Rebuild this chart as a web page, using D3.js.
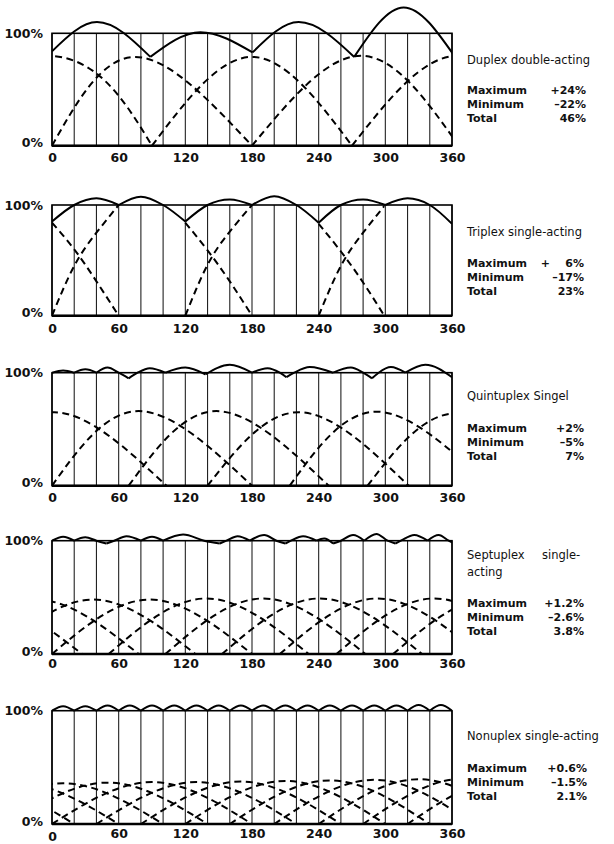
<!DOCTYPE html>
<html><head><meta charset="utf-8">
<script src="https://cdn.jsdelivr.net/npm/d3@7"></script>
<style>html,body{margin:0;padding:0;background:#fff}</style>
</head><body><svg id="c" width="614" height="844"></svg>
<script>
// ---------- shared data ----------
const xTicks = [0, 60, 120, 180, 240, 300, 360];
const gridDeg = [0,20,40,60,80,100,120,140,160,180,200,220,240,260,280,300,320,340,360];
const yTickVals = [0, 1];
const yTickLabels = ["0%", "100%"];

// ---------- Panel 1: Duplex double-acting ----------
const p1Title = ["Duplex double-acting"];
const p1StatNames = ["Maximum", "Minimum", "Total"];
const p1StatVals = ["+24%", "\u201322%", "46%"];
// cylinder curves: [start deg, peak deg, peak value, end deg]
const p1Cyl = [[-185,-5,0.80,90],[0,75,0.79,180],[90,180,0.79,270],[180,278,0.80,366],[270,365,0.80,460]];
// total flow arcs (between cusps): [deg, value]
const p1Total = [
  [[0,0.84],[40.5,1.10],[88.5,0.79]],
  [[88.5,0.79],[133.5,1.01],[180.5,0.83]],
  [[180.5,0.83],[222,1.10],[272,0.79]],
  [[272,0.79],[316.5,1.23],[362,0.80]]
];

// ---------- Panel 2: Triplex single-acting ----------
const p2Title = ["Triplex single-acting"];
const p2StatNames = ["Maximum", "Minimum", "Total"];
const p2StatVals = ["+\u2007\u20076%", "\u201317%", "23%"];
const p2Dash = [
  [[0,0.84],[20,0.60],[40,0.31],[60,0]],
  [[0,0],[20,0.45],[40,0.75],[60,1.0]],
  [[120,0.84],[140,0.59],[160,0.31],[180,0]],
  [[120,0],[140,0.46],[160,0.76],[180,1.0]],
  [[240,0.83],[260,0.58],[280,0.30],[299,0]],
  [[240,0],[260,0.45],[280,0.75],[299,0.99]]
];
const p2Total = [
  [[0,0.85],[20,1.0],[40,1.06],[60,1.0]],
  [[60,1.0],[80,1.075],[100,1.0],[120,0.85]],
  [[120,0.85],[140,1.0],[160,1.05],[180,1.0]],
  [[180,1.0],[200,1.08],[220,1.0],[240,0.84]],
  [[240,0.84],[260,1.0],[280,1.05],[300,1.0]],
  [[300,1.0],[320,1.06],[340,1.0],[360,0.83]]
];

// ---------- Panel 3: Quintuplex ----------
const p3Title = ["Quintuplex Singel"];
const p3StatNames = ["Maximum", "Minimum", "Total"];
const p3StatVals = ["+2%", "\u20135%", "7%"];
const p3Cyl = [[-77,2,0.65,103],[0,78,0.66,180],[69,148,0.66,249],[140,222,0.65,321],[214,292,0.655,394],[284,364,0.64,464]];
const p3Total = [
  [[0,1.0],[10,1.02],[20,1.0]],
  [[20,1.0],[30,1.03],[40,1.0]],
  [[40,1.0],[50,1.045],[60,1.0],[69,0.95]],
  [[69,0.95],[77,1.0],[88,1.04],[102,1.0]],
  [[102,1.0],[120,1.045],[138,0.985]],
  [[138,0.985],[160,1.07],[180,1.0]],
  [[180,1.0],[194,1.04],[205,1.0],[211,0.96]],
  [[211,0.96],[218,1.0],[232,1.05],[253,1.0]],
  [[253,1.0],[269,1.045],[280,1.0],[288,0.95]],
  [[288,0.95],[294,1.0],[305,1.05],[318,1.0]],
  [[318,1.0],[336,1.07],[360,0.96]]
];

// ---------- Panel 4: Septuplex ----------
const p4Title = ["Septuplex", "single-", "acting"];
const p4StatNames = ["Maximum", "Minimum", "Total"];
const p4StatVals = ["+1.2%", "\u20132.6%", "3.8%"];
const p4Cyl = [[-153,-65,0.47,27],[-102,-14,0.48,78],[-51,37,0.48,129],[0,88,0.48,180],[51,139,0.49,231],[102,190,0.49,282],[153,241,0.49,333],[205,293,0.49,385],[256,344,0.49,436],[307,395,0.49,487]];
const p4Total = [
  [[0,1.0],[10,1.035],[20,1.0]],
  [[20,1.0],[30,1.03],[40,1.0],[49,0.975]],
  [[49,0.975],[56,1.0],[67,1.04],[80,1.0]],
  [[80,1.0],[90,1.035],[100,1.0]],
  [[100,1.0],[118,1.055],[137,1.0],[151,0.975]],
  [[151,0.975],[157,1.0],[167,1.04],[178,1.0]],
  [[178,1.0],[191,1.05],[202,1.0],[210,0.975]],
  [[210,0.975],[215,1.0],[226,1.04],[238,1.0]],
  [[238,1.0],[245,1.02],[253,0.975]],
  [[253,0.975],[260,1.0],[271,1.05],[281,1.0]],
  [[281,1.0],[292,1.06],[302,1.0],[309,0.975]],
  [[309,0.975],[314,1.0],[326,1.05],[338,1.0]],
  [[338,1.0],[348,1.05],[357,1.0],[360,0.985]]
];

// ---------- Panel 5: Nonuplex ----------
const p5Title = ["Nonuplex single-acting"];
const p5StatNames = ["Maximum", "Minimum", "Total"];
const p5StatVals = ["+0.6%", "\u20131.5%", "2.1%"];
const p5Cyl = [[-160,-70,0.36,20],[-120,-30,0.36,60],[-80,10,0.36,100],[-40,50,0.365,140],[0,90,0.37,180],[40,130,0.37,220],[80,170,0.375,260],[120,210,0.38,300],[160,250,0.385,340],[200,290,0.39,380],[240,330,0.395,420],[280,370,0.40,460],[320,410,0.40,500]];
const p5Valleys = [[0,1.0],[20,1.0],[40,1.0],[60,1.0],[80,1.0],[100,1.0],[120,1.0],[140,1.0],[160,1.0],[180,1.0],[200,1.0],[220,1.0],[240,1.0],[260,1.0],[280,1.0],[300,1.0],[320,1.0],[340,1.0],[360,1.0]];
const p5Peaks = [[10,1.04],[30,1.04],[50,1.045],[70,1.045],[90,1.045],[110,1.045],[130,1.045],[150,1.045],[170,1.045],[190,1.045],[210,1.045],[230,1.045],[250,1.045],[270,1.045],[290,1.045],[310,1.045],[330,1.05],[350,1.05]];
const p5Total = p5Peaks.map((p, i) => [p5Valleys[i], p, p5Valleys[i + 1]]);

// ---------- layout ----------
const X0 = 52, X1 = 452;
const panels = [
  {top: 33.3, bottom: 145.7, tickPad: 7, cyl: p1Cyl, dash: null, total: p1Total, title: p1Title, names: p1StatNames, vals: p1StatVals, titleY: [64], statY: 94, valX: 586},
  {top: 205, bottom: 315.7, tickPad: 8, cyl: null, dash: p2Dash, total: p2Total, title: p2Title, names: p2StatNames, vals: p2StatVals, titleY: [236], statY: 267, valX: 584},
  {top: 372.7, bottom: 485.7, tickPad: 7, cyl: p3Cyl, dash: null, total: p3Total, title: p3Title, names: p3StatNames, vals: p3StatVals, titleY: [400], statY: 432, valX: 584},
  {top: 540.7, bottom: 654, tickPad: 5, cyl: p4Cyl, dash: null, total: p4Total, title: p4Title, names: p4StatNames, vals: p4StatVals, titleY: [559, 576], statY: 607, valX: 584},
  {top: 710.7, bottom: 824, tickPad: 5, cyl: p5Cyl, dash: null, total: p5Total, title: p5Title, names: p5StatNames, vals: p5StatVals, titleY: [740], statY: 772, valX: 587}
];

const svg = d3.select("#c");
svg.append("rect").attr("width", 614).attr("height", 844).attr("fill", "#fff");
const FONT = "'DejaVu Sans', Verdana, sans-serif";

panels.forEach((p, idx) => {
  const g = svg.append("g");
  const x = d3.scaleLinear().domain([0, 360]).range([X0, X1]);
  const y = d3.scaleLinear().domain([0, 1]).range([p.bottom, p.top]);
  const cid = "clip" + idx;
  svg.append("defs").append("clipPath").attr("id", cid)
    .append("rect").attr("x", x(0)).attr("y", y(1.4))
    .attr("width", x(360) - x(0)).attr("height", y(0) - y(1.4));

  // vertical grid lines
  g.selectAll("line.grid").data(gridDeg).enter().append("line")
    .attr("x1", d => x(d)).attr("x2", d => x(d))
    .attr("y1", y(0)).attr("y2", y(1))
    .attr("stroke", "#222").attr("stroke-width", 1.1);
  // frame
  g.append("rect").attr("x", x(0)).attr("y", y(1))
    .attr("width", x(360) - x(0)).attr("height", y(0) - y(1))
    .attr("fill", "none").attr("stroke", "#000").attr("stroke-width", 1.6);
  g.append("line").attr("x1", x(0)).attr("x2", x(360)).attr("y1", y(0)).attr("y2", y(0))
    .attr("stroke", "#000").attr("stroke-width", 2.6);

  const plot = g.append("g").attr("clip-path", `url(#${cid})`);
  const dashLine = d3.line().x(d => x(d[0])).y(d => y(d[1])).curve(d3.curveNatural);
  const totLine = d3.line().x(d => x(d[0])).y(d => y(d[1])).curve(d3.curveMonotoneX);

  let dashData = p.dash;
  if (p.cyl) dashData = p.cyl.map(c => [[c[0], 0], [c[1], c[2]], [c[3], 0]]);
  plot.selectAll("path.cyl").data(dashData).enter().append("path")
    .attr("d", dashLine).attr("fill", "none").attr("stroke", "#000")
    .attr("stroke-width", 2).attr("stroke-dasharray", "7,4.5");

  plot.selectAll("path.tot").data(p.total).enter().append("path")
    .attr("d", totLine).attr("fill", "none").attr("stroke", "#000")
    .attr("stroke-width", 2).attr("stroke-linejoin", "round");

  // x axis tick labels
  const xa = g.append("g").attr("transform", `translate(0,${y(0)})`)
    .call(d3.axisBottom(x).tickValues(xTicks).tickSize(0).tickPadding(p.tickPad).tickFormat(d3.format("d")));
  xa.select(".domain").remove();
  xa.selectAll("text").attr("font-family", FONT).attr("font-size", 12.5).attr("font-weight", "bold").attr("fill", "#111");
  if (idx === 4) xa.selectAll("text").filter(d => d === 0).attr("dy", "0.98em");

  // y axis labels
  const ya = g.append("g").attr("transform", `translate(${x(0)},0)`)
    .call(d3.axisLeft(y).tickValues(yTickVals).tickSize(0).tickPadding(9)
      .tickFormat((d, i) => yTickLabels[i]));
  ya.select(".domain").remove();
  ya.selectAll("text").attr("font-family", FONT).attr("font-size", 12.5).attr("font-weight", "bold").attr("fill", "#111");
  ya.selectAll("text").filter(d => d === 0).attr("dy", "0.1em");

  // right-hand text
  const tx = 467;
  if (idx === 3) {
    g.append("text").attr("x", tx).attr("y", p.titleY[0]).text(p.title[0])
      .attr("font-family", FONT).attr("font-size", 11.5).attr("fill", "#111");
    g.append("text").attr("x", 542).attr("y", p.titleY[0]).text(p.title[1])
      .attr("font-family", FONT).attr("font-size", 11.5).attr("fill", "#111");
    g.append("text").attr("x", tx).attr("y", p.titleY[1]).text(p.title[2])
      .attr("font-family", FONT).attr("font-size", 11.5).attr("fill", "#111");
  } else {
    g.append("text").attr("x", tx).attr("y", p.titleY[0]).text(p.title[0])
      .attr("font-family", FONT).attr("font-size", 11.5).attr("fill", "#111");
  }
  p.names.forEach((n, i) => {
    g.append("text").attr("x", tx).attr("y", p.statY + i * 14).text(n)
      .attr("font-family", FONT).attr("font-size", 11).attr("font-weight", "bold").attr("fill", "#111");
    g.append("text").attr("x", p.valX).attr("y", p.statY + i * 14).text(p.vals[i])
      .attr("text-anchor", "end")
      .attr("font-family", FONT).attr("font-size", 11).attr("font-weight", "bold").attr("fill", "#111");
  });
});
</script></body></html>
